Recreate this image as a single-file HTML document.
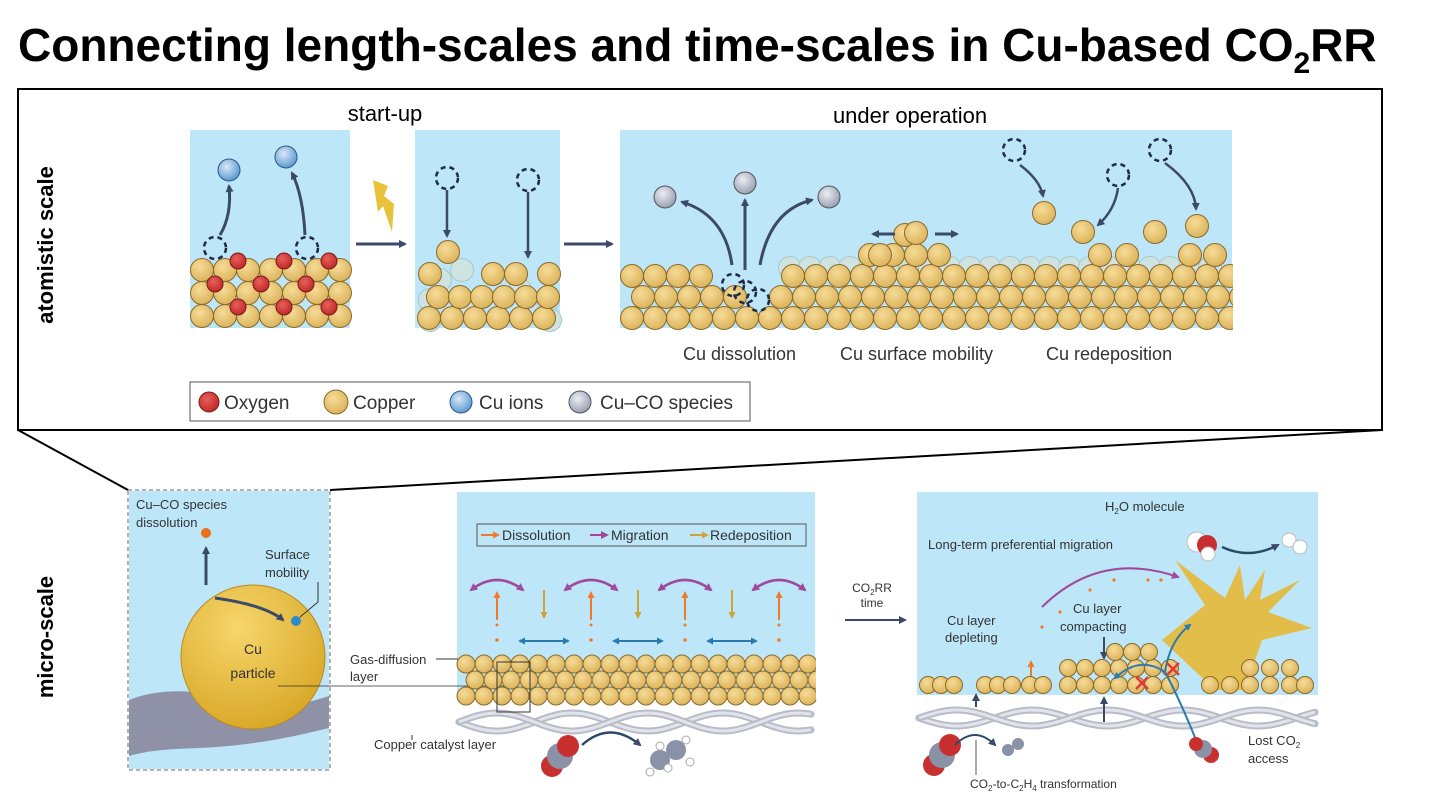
<!DOCTYPE html>
<html><head><meta charset="utf-8"><style>
html,body{margin:0;padding:0;background:#fff;}
svg{display:block;font-family:"Liberation Sans",Arial,sans-serif;}
</style></head><body>
<svg id="s" width="1440" height="810" viewBox="0 0 1440 810" xmlns="http://www.w3.org/2000/svg">
<defs>
<radialGradient id="cu" cx="40%" cy="35%" r="65%"><stop offset="0" stop-color="#f6dc98"/><stop offset="1" stop-color="#dcb45c"/></radialGradient>
<radialGradient id="ox" cx="40%" cy="35%" r="65%"><stop offset="0" stop-color="#e8605a"/><stop offset="1" stop-color="#c02a2a"/></radialGradient>
<radialGradient id="ion" cx="40%" cy="35%" r="65%"><stop offset="0" stop-color="#d8e8f6"/><stop offset="1" stop-color="#5f9ad2"/></radialGradient>
<radialGradient id="coS" cx="40%" cy="35%" r="65%"><stop offset="0" stop-color="#eceef4"/><stop offset="1" stop-color="#9aa0b4"/></radialGradient>
<radialGradient id="big" cx="40%" cy="30%" r="70%"><stop offset="0" stop-color="#f7d66a"/><stop offset="1" stop-color="#d9a92a"/></radialGradient>
<marker id="ad" markerWidth="8" markerHeight="8" refX="6" refY="4" orient="auto" markerUnits="userSpaceOnUse"><path d="M0,0 L8,4 L0,8 z" fill="#3b4a68"/></marker>
<marker id="ab" markerWidth="7" markerHeight="7" refX="5" refY="3.5" orient="auto" markerUnits="userSpaceOnUse"><path d="M0,0 L7,3.5 L0,7 z" fill="#2a7ab0"/></marker>
<marker id="ao" markerWidth="7" markerHeight="7" refX="5" refY="3.5" orient="auto" markerUnits="userSpaceOnUse"><path d="M0,0 L7,3.5 L0,7 z" fill="#ee7a2a"/></marker>
<marker id="ay" markerWidth="7" markerHeight="7" refX="5" refY="3.5" orient="auto" markerUnits="userSpaceOnUse"><path d="M0,0 L7,3.5 L0,7 z" fill="#c9a53a"/></marker>
<marker id="ap" markerWidth="8" markerHeight="8" refX="6" refY="4" orient="auto" markerUnits="userSpaceOnUse"><path d="M0,0 L8,4 L0,8 z" fill="#a04a9e"/></marker>
</defs>

<text x="18" y="61" font-size="46" font-weight="bold" fill="#000">Connecting length-scales and time-scales in Cu-based CO<tspan font-size="30" dy="12">2</tspan><tspan dy="-12">RR</tspan></text>

<rect x="18" y="89" width="1364" height="341" fill="none" stroke="#000" stroke-width="2"/>
<text transform="translate(53,245) rotate(-90)" text-anchor="middle" font-size="22" font-weight="bold">atomistic scale</text>
<text transform="translate(53,637) rotate(-90)" text-anchor="middle" font-size="22" font-weight="bold">micro-scale</text>

<rect x="190" y="130" width="160" height="198" fill="#bde6f8"/>
<rect x="415" y="130" width="145" height="198" fill="#bde6f8"/>
<rect x="620" y="130" width="612" height="198" fill="#bde6f8"/>
<text x="385" y="121" text-anchor="middle" font-size="22">start-up</text>
<text x="910" y="123" text-anchor="middle" font-size="22">under operation</text>
<line x1="356" y1="244" x2="405" y2="244" stroke="#3b4a68" stroke-width="3" marker-end="url(#ad)"/>
<line x1="564" y1="244" x2="612" y2="244" stroke="#3b4a68" stroke-width="3" marker-end="url(#ad)"/>
<path d="M373,180 L388,186 L384,196 L394,204 L392,232 L383,206 L378,212 Z" fill="#e8c23a"/>

<g id="atoms"></g>

<text x="683" y="360" font-size="18" fill="#333">Cu dissolution</text>
<text x="840" y="360" font-size="18" fill="#333">Cu surface mobility</text>
<text x="1046" y="360" font-size="18" fill="#333">Cu redeposition</text>

<rect x="190" y="382" width="560" height="39" fill="#fff" stroke="#555" stroke-width="1"/>
<circle cx="209" cy="402" r="10" fill="url(#ox)" stroke="#7a1a1a"/>
<text x="224" y="409" font-size="19" fill="#333">Oxygen</text>
<circle cx="336" cy="402" r="12" fill="url(#cu)" stroke="#8a6a2a"/>
<text x="353" y="409" font-size="19" fill="#333">Copper</text>
<circle cx="461" cy="402" r="11" fill="url(#ion)" stroke="#2a5a8a"/>
<text x="479" y="409" font-size="19" fill="#333">Cu ions</text>
<circle cx="580" cy="402" r="11" fill="url(#coS)" stroke="#555"/>
<text x="600" y="409" font-size="19" fill="#333">Cu–CO species</text>

<line x1="18" y1="430" x2="128" y2="490" stroke="#000" stroke-width="2"/>
<line x1="1382" y1="430" x2="330" y2="490" stroke="#000" stroke-width="2"/>

<!-- micro panel 1 -->
<rect x="128" y="490" width="202" height="280" fill="#fff" stroke="#666" stroke-dasharray="4,3"/>
<rect x="129" y="491" width="200" height="278" fill="#bde6f8"/>
<path d="M129,700 C180,680 230,700 280,705 C300,706 315,700 329,696 L329,728 C300,735 260,745 200,748 C170,749 150,750 129,756 Z" fill="#8f92a6"/>
<circle cx="253" cy="657" r="72" fill="url(#big)" stroke="#b88a20"/>
<text x="253" y="654" text-anchor="middle" font-size="14" fill="#333">Cu</text>
<text x="253" y="678" text-anchor="middle" font-size="14" fill="#333">particle</text>
<text x="136" y="509" font-size="13" fill="#333">Cu–CO species</text>
<text x="136" y="527" font-size="13" fill="#333">dissolution</text>
<line x1="206" y1="528" x2="206" y2="533" stroke="#333"/>
<circle cx="206" cy="533" r="5" fill="#e8701a"/>
<line x1="206" y1="585" x2="206" y2="548" stroke="#3b4a68" stroke-width="3" marker-end="url(#ad)"/>
<path d="M215,598 Q265,605 283,620" fill="none" stroke="#3b4a68" stroke-width="3" marker-end="url(#ad)"/>
<circle cx="296" cy="621" r="5" fill="#2a8ad0"/>
<text x="265" y="559" font-size="13" fill="#333">Surface</text>
<text x="265" y="577" font-size="13" fill="#333">mobility</text>
<path d="M318,582 L318,602 L300,617" fill="none" stroke="#333"/>

<!-- micro panel 2 -->
<rect x="457" y="492" width="358" height="208" fill="#bde6f8"/>
<rect x="477" y="524" width="329" height="22" fill="none" stroke="#555"/>
<line x1="481" y1="535" x2="498" y2="535" stroke="#ee7a2a" stroke-width="2" marker-end="url(#ao)"/>
<text x="502" y="540" font-size="14" fill="#333">Dissolution</text>
<line x1="590" y1="535" x2="607" y2="535" stroke="#a04a9e" stroke-width="2" marker-end="url(#ap)"/>
<text x="611" y="540" font-size="14" fill="#333">Migration</text>
<line x1="690" y1="535" x2="707" y2="535" stroke="#c9a53a" stroke-width="2" marker-end="url(#ay)"/>
<text x="710" y="540" font-size="14" fill="#333">Redeposition</text>
<text x="350" y="664" font-size="13" fill="#333">Gas-diffusion</text>
<text x="350" y="681" font-size="13" fill="#333">layer</text>
<line x1="436" y1="659" x2="458" y2="659" stroke="#333"/>
<line x1="278" y1="686" x2="515" y2="686" stroke="#333" stroke-width="0.8"/>
<text x="374" y="749" font-size="13" fill="#333">Copper catalyst layer</text>
<line x1="412" y1="735" x2="412" y2="740" stroke="#333"/>

<text x="872" y="592" text-anchor="middle" font-size="12" fill="#333">CO<tspan font-size="8" dy="3">2</tspan><tspan dy="-3">RR</tspan></text>
<text x="872" y="607" text-anchor="middle" font-size="12" fill="#333">time</text>
<line x1="845" y1="620" x2="905" y2="620" stroke="#3b4a68" stroke-width="2" marker-end="url(#ad)"/>

<!-- micro panel 3 -->
<rect x="917" y="492" width="401" height="203" fill="#bde6f8"/>
<text x="1105" y="511" font-size="13" fill="#333">H<tspan font-size="8" dy="3">2</tspan><tspan dy="-3">O molecule</tspan></text>
<text x="928" y="549" font-size="13" fill="#333">Long-term preferential migration</text>
<path d="M1042,607 Q1100,550 1178,577" fill="none" stroke="#a04a9e" stroke-width="2" marker-end="url(#ap)"/>
<path d="M1162,640 L1205,605 L1175,560 L1225,598 L1240,565 L1245,600 L1265,570 L1260,600 L1300,580 L1268,612 L1312,628 L1262,640 L1245,690 L1215,690 Z" fill="#e2bd4a"/>
<circle cx="1197" cy="542" r="10" fill="#fff" stroke="#bbb"/>
<circle cx="1207" cy="545" r="10" fill="#c83030"/>
<circle cx="1208" cy="554" r="7" fill="#fff" stroke="#bbb"/>
<path d="M1222,547 Q1250,560 1278,545" fill="none" stroke="#2a4a6a" stroke-width="2.5" marker-end="url(#ad)"/>
<circle cx="1289" cy="540" r="7" fill="#fff" stroke="#bbb"/>
<circle cx="1300" cy="547" r="7" fill="#fff" stroke="#bbb"/>
<text x="947" y="625" font-size="13" fill="#333">Cu layer</text>
<text x="945" y="642" font-size="13" fill="#333">depleting</text>
<text x="1073" y="613" font-size="13" fill="#333">Cu layer</text>
<text x="1060" y="631" font-size="13" fill="#333">compacting</text>
<line x1="1104" y1="637" x2="1104" y2="658" stroke="#3b4a68" stroke-width="2" marker-end="url(#ad)"/>
<line x1="1031" y1="677" x2="1031" y2="662" stroke="#ee7a2a" stroke-width="2" marker-end="url(#ao)"/>
<text x="1248" y="745" font-size="13" fill="#333">Lost CO<tspan font-size="8" dy="3">2</tspan></text>
<text x="1248" y="763" font-size="13" fill="#333">access</text>
<text x="970" y="788" font-size="12" fill="#333">CO<tspan font-size="8" dy="3">2</tspan><tspan dy="-3">-to-C</tspan><tspan font-size="8" dy="3">2</tspan><tspan dy="-3">H</tspan><tspan font-size="8" dy="3">4</tspan><tspan dy="-3"> transformation</tspan></text>
<line x1="976" y1="740" x2="976" y2="775" stroke="#555"/>
<g id="late"></g>
</svg>
<script>
var NS="http://www.w3.org/2000/svg";
function el(t,a,p){var e=document.createElementNS(NS,t);for(var k in a)e.setAttribute(k,a[k]);(p||document.getElementById('atoms')).appendChild(e);return e;}
function cu(x,y,r,p){el('circle',{cx:x,cy:y,r:r||11.5,fill:'url(#cu)',stroke:'#8a6a2a','stroke-width':1},p);}
function ghost(x,y){el('circle',{cx:x,cy:y,r:11.5,fill:'#cfe4e2',stroke:'#a8c8c6'});}
function dash(x,y){el('circle',{cx:x,cy:y,r:11,fill:'none',stroke:'#1f2a44','stroke-width':2.5,'stroke-dasharray':'5,4'});}
function ox(x,y){el('circle',{cx:x,cy:y,r:8,fill:'url(#ox)',stroke:'#7a1a1a'});}
function arr(d,c,m,w,p){el('path',{d:d,fill:'none',stroke:c,'stroke-width':w||3,'marker-end':'url(#'+m+')'},p);}
var i,j;
[270,293,316].forEach(function(y){for(i=0;i<7;i++)cu(202+i*23,y);});
[[238,261],[284,261],[329,261],[215,284],[261,284],[306,284],[238,307],[284,307],[329,307]].forEach(function(p){ox(p[0],p[1]);});
dash(215,248);dash(307,248);
arr('M220,235 Q232,215 229,186','#3b4a68','ad');
arr('M305,235 Q303,195 292,173','#3b4a68','ad');
el('circle',{cx:229,cy:170,r:11,fill:'url(#ion)',stroke:'#2a5a8a'});
el('circle',{cx:286,cy:157,r:11,fill:'url(#ion)',stroke:'#2a5a8a'});
[[440,280],[462,270],[430,300],[470,305],[520,290],[548,300],[430,320],[550,320]].forEach(function(p){ghost(p[0],p[1]);});
for(i=0;i<6;i++)cu(429+i*23,318);
for(i=0;i<6;i++)cu(438+i*22,297);
cu(430,274);cu(493,274);cu(516,274);cu(549,274);cu(448,252);
dash(447,178);dash(528,180);
arr('M447,190 L447,236','#3b4a68','ad',2.5);
arr('M528,192 L528,257','#3b4a68','ad',2.5);
for(i=0;i<22;i++)ghost(790+i*20,268);
for(i=0;i<27;i++)cu(632+i*23,318);
for(i=0;i<27;i++){var x=643+i*23;if(x>735&&x<770)continue;cu(x,297);}
for(i=0;i<27;i++){var x=632+i*23;if(x>710&&x<775)continue;cu(x,276);}
dash(733,285);dash(758,300);dash(745,292);
[870,893,916,939].forEach(function(x){cu(x,255);});cu(880,255);cu(905,235);cu(916,233);
[1100,1127,1190,1215].forEach(function(x){cu(x,255);});
cu(1044,213);cu(1083,232);cu(1155,232);cu(1197,226);
dash(1014,150);dash(1118,175);dash(1160,150);
arr('M1020,165 Q1040,180 1043,196','#3b4a68','ad',2.5);
arr('M1118,188 Q1115,210 1098,225','#3b4a68','ad',2.5);
arr('M1165,163 Q1195,185 1196,209','#3b4a68','ad',2.5);
arr('M732,265 Q725,215 682,202','#3b4a68','ad',3);
arr('M745,270 L745,200','#3b4a68','ad',3);
arr('M760,265 Q770,210 812,200','#3b4a68','ad',3);
el('circle',{cx:665,cy:197,r:11,fill:'url(#coS)',stroke:'#555'});
el('circle',{cx:745,cy:183,r:11,fill:'url(#coS)',stroke:'#555'});
el('circle',{cx:829,cy:197,r:11,fill:'url(#coS)',stroke:'#555'});
arr('M895,234 L873,234','#3b4a68','ad',3);arr('M935,234 L957,234','#3b4a68','ad',3);
el('rect',{x:1233,y:245,width:40,height:95,fill:'#fff'});
var L=document.getElementById('late');
for(j=0;j<3;j++)for(i=0;i<20;i++)cu(466+i*18+(j%2?9:0),664+j*16,9,L);
function fiber(x0,x1,y,A,ph,p){var d='M'+x0+','+(y+A*Math.sin(ph));for(var x=x0;x<=x1;x+=4)d+=' L'+x+','+(y+A*Math.sin((x-x0)/24+ph)).toFixed(1);el('path',{d:d,fill:'none',stroke:'#b8bcc8','stroke-width':7,'stroke-linecap':'round'},p);el('path',{d:d,fill:'none',stroke:'#e2e4ea','stroke-width':3},p);}
fiber(459,813,722,9,0,L);fiber(459,813,722,9,Math.PI,L);
fiber(919,1316,718,8,0,L);fiber(919,1316,718,8,Math.PI,L);
el('rect',{x:816,y:640,width:40,height:60,fill:'#fff'},L);
el('rect',{x:497,y:662,width:33,height:50,fill:'none',stroke:'#333'},L);
for(i=0;i<4;i++){var ox2=497+i*94;
 el('path',{d:'M'+(ox2-26)+',590 Q'+ox2+',570 '+(ox2+26)+',590',fill:'none',stroke:'#a04a9e','stroke-width':2.5,'marker-end':'url(#ap)'},L);
 el('path',{d:'M'+(ox2+26)+',590 Q'+ox2+',570 '+(ox2-26)+',590',fill:'none',stroke:'#a04a9e','stroke-width':2.5,'marker-end':'url(#ap)'},L);
 el('line',{x1:ox2,y1:620,x2:ox2,y2:593,stroke:'#ee7a2a','stroke-width':2,'marker-end':'url(#ao)'},L);
 el('circle',{cx:ox2,cy:640,r:1.8,fill:'#ee7a2a'},L);el('circle',{cx:ox2,cy:625,r:1.5,fill:'#ee7a2a'},L);
 if(i<3){var yx=ox2+47;el('line',{x1:yx,y1:590,x2:yx,y2:617,stroke:'#c9a53a','stroke-width':2,'marker-end':'url(#ay)'},L);
  el('line',{x1:yx-24,y1:641,x2:yx+24,y2:641,stroke:'#2a7ab0','stroke-width':2,'marker-end':'url(#ab)'},L);
  el('line',{x1:yx+24,y1:641,x2:yx-24,y2:641,stroke:'#2a7ab0','stroke-width':2,'marker-end':'url(#ab)'},L);}
}
function mol(x,y,p){el('circle',{cx:x-8,cy:y+10,r:11,fill:'#c83030'},p);el('circle',{cx:x,cy:y,r:13,fill:'#8a92a8'},p);el('circle',{cx:x+8,cy:y-10,r:11,fill:'#c83030'},p);}
mol(560,756,L);
el('path',{d:'M582,745 Q610,720 640,745',fill:'none',stroke:'#2a4a6a','stroke-width':2.5,'marker-end':'url(#ad)'},L);
[[660,760],[676,750]].forEach(function(p){el('circle',{cx:p[0],cy:p[1],r:10,fill:'#8a92a8'},L);});
[[650,772],[668,768],[686,740],[690,762],[660,746]].forEach(function(p){el('circle',{cx:p[0],cy:p[1],r:4,fill:'#fff',stroke:'#aaa'},L);});
var xs=[928,941,954, 985,998,1012, 1030,1043, 1068,1085,1102,1119,1136,1153,1170, 1210,1230,1250,1270,1290,1305];
xs.forEach(function(x){cu(x,685,8.5,L);});
[1068,1085,1102,1119,1136,1153,1170,1250,1270,1290].forEach(function(x){cu(x,668,8.5,L);});
[1115,1132,1149].forEach(function(x){cu(x,652,8.5,L);});
[1042,1060,1090,1114,1148,1161].forEach(function(x,k){el('circle',{cx:x,cy:[627,612,590,580,580,580][k],r:1.6,fill:'#ee7a2a'},L);});
el('line',{x1:976,y1:707,x2:976,y2:695,stroke:'#3b4a68','stroke-width':2,'marker-end':'url(#ad)'},L);
el('line',{x1:1104,y1:722,x2:1104,y2:698,stroke:'#3b4a68','stroke-width':2,'marker-end':'url(#ad)'},L);
el('path',{d:'M1196,740 Q1180,700 1165,672 Q1140,655 1115,678',fill:'none',stroke:'#2a7ab0','stroke-width':2,'marker-end':'url(#ab)'},L);
el('path',{d:'M1165,672 Q1170,640 1190,625',fill:'none',stroke:'#2a7ab0','stroke-width':2,'marker-end':'url(#ab)'},L);
[[1142,683],[1173,669]].forEach(function(p){el('path',{d:'M'+(p[0]-6)+','+(p[1]-6)+' L'+(p[0]+6)+','+(p[1]+6)+' M'+(p[0]+6)+','+(p[1]-6)+' L'+(p[0]-6)+','+(p[1]+6),stroke:'#e03a3a','stroke-width':2.5},L);});
mol(942,755,L);
el('path',{d:'M955,745 Q975,725 995,745',fill:'none',stroke:'#2a4a6a','stroke-width':2,'marker-end':'url(#ad)'},L);
el('circle',{cx:1008,cy:750,r:6,fill:'#8a92a8'},L);el('circle',{cx:1018,cy:744,r:6,fill:'#8a92a8'},L);
el('circle',{cx:1211,cy:755,r:8,fill:'#c83030'},L);el('circle',{cx:1203,cy:749,r:9,fill:'#8a92a8'},L);el('circle',{cx:1196,cy:744,r:7,fill:'#c83030'},L);
</script>
</body></html>
